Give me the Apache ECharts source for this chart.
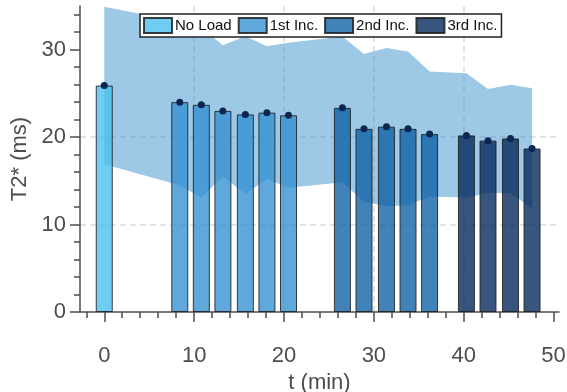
<!DOCTYPE html>
<html>
<head>
<meta charset="utf-8">
<script src="https://cdn.jsdelivr.net/npm/echarts@6/dist/echarts.min.js"></script>
<style>
  html, body { margin: 0; padding: 0; background: #fff; }
  #chart { width: 567px; height: 392px; }
</style>
</head>
<body>
<div id="chart"></div>
<script>
// bar times (min) and T2* values (ms), per loading stage
const tNoLoad = [0]
const vNoLoad = [25.9]
const t1st = [8.4, 10.8, 13.2, 15.7, 18.1, 20.5]
const v1st = [24.0, 23.7, 23.0, 22.6, 22.8, 22.5]
const t2nd = [26.5, 28.9, 31.4, 33.8, 36.2]
const v2nd = [23.35, 20.95, 21.2, 20.95, 20.35]
const t3rd = [40.3, 42.7, 45.2, 47.6]
const v3rd = [20.2, 19.6, 19.85, 18.7]

// shaded range (upper / lower edge) at the same times
const bandT = [0, 8.4, 10.8, 13.2, 15.7, 18.1, 20.5, 26.5, 28.9, 31.4, 33.8, 36.2, 40.3, 42.7, 45.2, 47.6]
const bandUpper = [34.9, 33.2, 32.5, 30.5, 31.55, 30.4, 30.8, 31.5, 29.5, 30.2, 29.8, 27.5, 27.3, 25.5, 26.0, 25.6]
const bandLower = [16.9, 14.5, 13.1, 15.5, 13.5, 15.2, 14.2, 14.85, 12.6, 12.1, 12.2, 13.2, 13.1, 13.6, 13.6, 11.85]

const xTicks = [0, 10, 20, 30, 40, 50]
const yTicks = [0, 10, 20, 30]

const pairs = (t, v) => t.map((x, i) => [x, v[i]])

const chart = echarts.init(document.getElementById('chart'))

const axisColor = '#4d4d4d'
const barBase = (name, data, color) => ({
  name: name,
  type: 'bar',
  data: data,
  barWidth: 17,
  barGap: '-100%',
  z: 3,
  itemStyle: { color: color, borderColor: 'rgba(30,30,30,0.85)', borderWidth: 1 }
})

chart.setOption({
  animation: false,
  grid: { left: 80, right: 8, top: 6, bottom: 80, outerBoundsMode: 'none' },
  legend: {
    left: 140,
    top: 14,
    itemWidth: 28,
    itemHeight: 15,
    itemGap: 6,
    padding: [3, 4, 3, 3],
    backgroundColor: '#fff',
    borderColor: '#222',
    borderWidth: 1.5,
    borderRadius: 0,
    icon: 'rect',
    textStyle: { fontSize: 15, color: '#111', fontFamily: 'Liberation Sans', padding: [0, 0, 0, -2] },
    data: ['No Load', '1st Inc.', '2nd Inc.', '3rd Inc.']
  },
  xAxis: {
    type: 'value',
    min: -2.7,
    max: 50.6,
    name: 't (min)',
    nameLocation: 'middle',
    nameGap: 48,
    nameTextStyle: { fontSize: 22, color: axisColor, fontFamily: 'Liberation Sans' },
    axisLine: { lineStyle: { color: axisColor, width: 1.5 } },
    axisTick: { customValues: xTicks, length: 10, lineStyle: { color: axisColor, width: 1.5 } },
    minorTick: { show: true, splitNumber: 5, length: 6, lineStyle: { color: axisColor, width: 1.5 } },
    axisLabel: { customValues: xTicks, fontSize: 22, color: axisColor, margin: 33, fontFamily: 'Liberation Sans' },
    splitLine: { show: true, showMinLine: false, showMaxLine: false, lineStyle: { color: '#dcdcdc', type: [6, 4], width: 1.5 } }
  },
  yAxis: {
    type: 'value',
    min: 0,
    max: 35,
    name: 'T2* (ms)',
    nameLocation: 'middle',
    nameGap: 43,
    nameTextStyle: { fontSize: 22, color: axisColor, fontFamily: 'Liberation Sans' },
    axisLine: { show: true, onZero: false, lineStyle: { color: axisColor, width: 1.5 } },
    axisTick: { show: true, customValues: yTicks, length: 10, lineStyle: { color: axisColor, width: 1.5 } },
    minorTick: { show: true, splitNumber: 5, length: 6, lineStyle: { color: axisColor, width: 1.5 } },
    axisLabel: { customValues: yTicks, fontSize: 22, color: axisColor, margin: 14, fontFamily: 'Liberation Sans' },
    splitLine: { show: true, showMinLine: false, showMaxLine: false, lineStyle: { color: '#dcdcdc', type: [6, 4], width: 1.5 } }
  },
  series: [
    {
      type: 'custom',
      silent: true,
      z: 1,
      data: [[0, 0]],
      renderItem: function (params, api) {
        const pts = []
        for (let i = 0; i < bandT.length; i++) pts.push(api.coord([bandT[i], bandUpper[i]]))
        for (let i = bandT.length - 1; i >= 0; i--) pts.push(api.coord([bandT[i], bandLower[i]]))
        return { type: 'polygon', shape: { points: pts }, style: { fill: 'rgba(60,145,205,0.5)' } }
      }
    },
    barBase('No Load', pairs(tNoLoad, vNoLoad), 'rgba(69,191,236,0.78)'),
    barBase('1st Inc.', pairs(t1st, v1st), 'rgba(50,144,210,0.78)'),
    barBase('2nd Inc.', pairs(t2nd, v2nd), 'rgba(11,95,165,0.78)'),
    barBase('3rd Inc.', pairs(t3rd, v3rd), 'rgba(0,37,88,0.78)'),
    {
      type: 'scatter',
      z: 4,
      symbolSize: 7,
      itemStyle: { color: '#0b2650', opacity: 1 },
      data: pairs(tNoLoad, vNoLoad).concat(pairs(t1st, v1st), pairs(t2nd, v2nd), pairs(t3rd, v3rd))
    }
  ]
})
</script>
</body>
</html>
